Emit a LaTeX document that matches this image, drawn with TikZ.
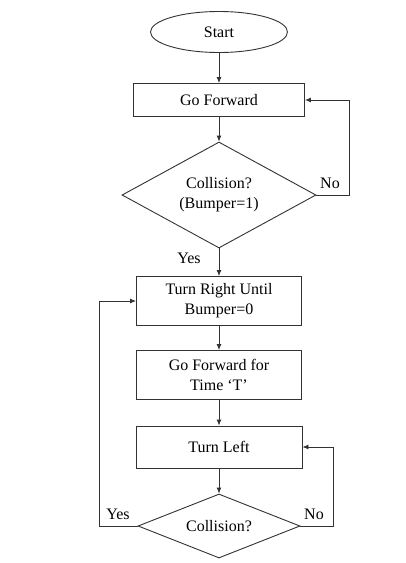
\documentclass[tikz,border=0pt]{standalone}
\usepackage{fontspec}
\setmainfont{Liberation Serif}
\usepackage{tikz}
\usetikzlibrary{shapes,shapes.geometric,arrows,positioning,calc,arrows.meta}
\definecolor{lineGray}{RGB}{50,50,50}

\tikzset{
    stepbox/.style={rectangle,draw=lineGray,line width=0.9pt,align=center,inner sep=2pt},
    decision/.style={diamond,draw=lineGray,line width=0.9pt,align=center,inner sep=0pt,aspect=1.8},
    terminal/.style={ellipse,draw=lineGray,line width=0.9pt,inner sep=0pt},
    flowarrow/.style={draw=lineGray,line width=0.9pt,-{Latex[length=6pt,width=5pt]}},
    branch/.style={font=\fontsize{16}{20}\selectfont}
}

\begin{document}
\begin{tikzpicture}[x=1pt,y=-1pt,font=\fontsize{16}{20}\selectfont]
    \useasboundingbox (0,0) rectangle (406,563);

    % main column
    \node[terminal,minimum width=137pt,minimum height=41pt] (start) at (219,32) {Start};
    \node[stepbox,minimum width=171pt,minimum height=33pt] (fwd) at (219,100) {Go Forward};
    \node[decision,minimum width=194pt,minimum height=106pt] (bump) at (219,195) {Collision?\\(Bumper=1)};
    \node[stepbox,minimum width=165pt,minimum height=49pt] (right) at (219,301) {Turn Right Until\\Bumper=0};
    \node[stepbox,minimum width=165pt,minimum height=49pt] (fwdtime) at (219,375) {Go Forward for\\Time `T'};
    \node[stepbox,minimum width=166pt,minimum height=42pt] (left) at (219,447) {Turn Left};
    \node[decision,minimum width=162pt,minimum height=64pt] (hit) at (219,526) {Collision?};

    % branch labels
    \node[branch] (bumpno) at (330,183) {No};
    \node[branch] (bumpyes) at (189,258) {Yes};
    \node[branch] (hityes) at (118,514) {Yes};
    \node[branch] (hitno) at (314,514) {No};

    % connectors
    \draw[flowarrow] (start) -- (fwd);
    \draw[flowarrow] (fwd) -- (bump);
    \draw[flowarrow] (bump.east) -- ++(33,0) |- (fwd.east);
    \draw[flowarrow] (bump) -- (right);
    \draw[flowarrow] (right) -- (fwdtime);
    \draw[flowarrow] (fwdtime) -- (left);
    \draw[flowarrow] (left) -- (hit);
    \draw[flowarrow] (hit.east) -- ++(33,0) |- (left.east);
    \draw[flowarrow] (hit.west) -- ++(-38,0) |- (right.west);
\end{tikzpicture}
\end{document}
